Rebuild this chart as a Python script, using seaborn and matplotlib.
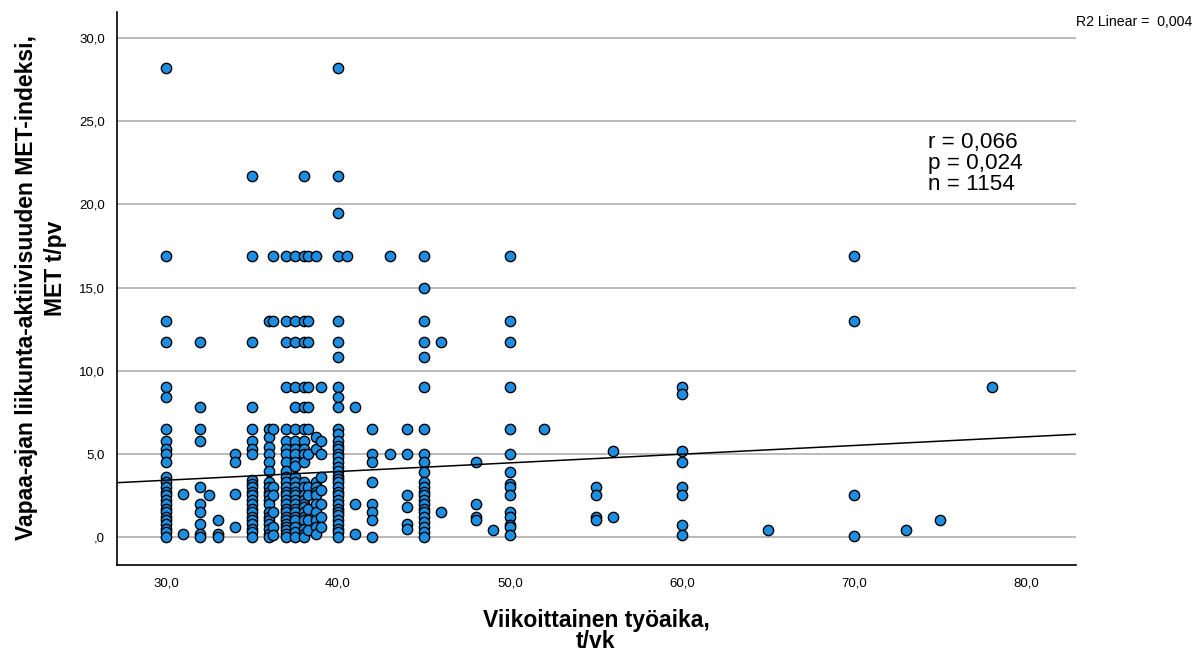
import pandas as pd
import matplotlib
matplotlib.use('Agg')
import matplotlib.pyplot as plt
import seaborn as sns
from matplotlib.ticker import FuncFormatter, MultipleLocator

# Weekly working hours (x columns) and leisure-time MET values
work_hours = [30.0, 31.0, 32.0, 32.5, 33.0, 34.0, 35.0, 36.0, 36.25, 37.0, 37.5,
              38.0, 38.25, 38.7, 39.0, 40.0, 40.5, 41.0, 42.0, 43.0, 44.0, 45.0,
              46.0, 48.0, 49.0, 50.0, 52.0, 55.0, 56.0, 60.0, 65.0, 70.0, 73.0,
              75.0, 78.0]

met_values = [
    [28.2, 16.9, 13.0, 11.7, 9.0, 8.4, 6.5, 5.8, 5.3, 5.0, 4.5, 3.6, 3.3, 3.0, 2.7,
     2.5, 2.2, 2.0, 1.7, 1.5, 1.2, 1.0, 0.8, 0.5, 0.3, 0.0],
    [2.6, 0.2],
    [11.7, 7.8, 6.5, 5.8, 3.0, 2.0, 1.5, 0.8, 0.2, 0.0],
    [2.5],
    [1.0, 0.2, 0.0],
    [5.0, 4.5, 2.6, 0.6],
    [21.7, 16.9, 11.7, 7.8, 6.5, 5.8, 5.3, 5.0, 3.4, 3.2, 3.0, 2.7, 2.5, 2.2, 2.0,
     1.7, 1.5, 1.2, 1.0, 0.8, 0.5, 0.3, 0.0],
    [13.0, 6.5, 6.0, 5.4, 5.0, 4.5, 4.0, 3.3, 3.0, 2.7, 2.5, 2.2, 2.0, 1.5, 1.2,
     1.0, 0.8, 0.5, 0.2, 0.0],
    [16.9, 13.0, 6.5, 3.0, 2.5, 1.5, 0.6, 0.1],
    [16.9, 13.0, 11.7, 9.0, 6.5, 5.8, 5.3, 5.0, 4.5, 4.0, 3.6, 3.3, 3.0, 2.7, 2.5,
     2.2, 2.0, 1.7, 1.5, 1.2, 1.0, 0.8, 0.6, 0.4, 0.2, 0.0],
    [16.9, 13.0, 11.7, 9.0, 7.8, 6.5, 5.8, 5.3, 5.0, 4.5, 4.3, 3.6, 3.3, 3.0, 2.7,
     2.5, 2.2, 2.0, 1.7, 1.5, 1.2, 1.0, 0.6, 0.3, 0.0],
    [21.7, 16.9, 13.0, 11.7, 9.0, 7.8, 6.5, 5.8, 5.3, 5.0, 4.5, 3.3, 3.0, 2.5, 2.2,
     2.0, 1.8, 1.5, 1.2, 1.0, 0.5, 0.2, 0.0],
    [16.9, 13.0, 11.7, 9.0, 7.8, 6.5, 5.0, 3.0, 2.5, 1.7, 1.0, 0.4],
    [16.9, 6.0, 5.3, 3.3, 3.0, 2.7, 2.5, 2.0, 1.5, 1.0, 0.6, 0.2],
    [9.0, 5.8, 5.0, 3.6, 2.8, 2.0, 1.2, 0.6],
    [28.2, 21.7, 19.5, 16.9, 13.0, 11.7, 10.8, 9.0, 8.4, 7.8, 6.5, 6.2, 5.8, 5.5,
     5.3, 5.0, 4.8, 4.5, 4.2, 4.0, 3.7, 3.5, 3.3, 3.0, 2.7, 2.5, 2.2, 2.0, 1.7, 1.5,
     1.3, 1.0, 0.8, 0.5, 0.3, 0.0],
    [16.9],
    [7.8, 2.0, 0.2],
    [6.5, 5.0, 4.5, 3.3, 2.0, 1.5, 1.0, 0.0],
    [16.9, 5.0],
    [6.5, 5.0, 2.5, 1.8, 0.8, 0.5],
    [16.9, 15.0, 13.0, 11.7, 10.8, 9.0, 6.5, 5.0, 4.5, 3.9, 3.3, 3.0, 2.7, 2.5, 2.2,
     2.0, 1.7, 1.5, 1.2, 0.9, 0.6, 0.3, 0.0],
    [11.7, 1.5],
    [4.5, 2.0, 1.2, 1.0],
    [0.4],
    [16.9, 13.0, 11.7, 9.0, 6.5, 5.0, 3.9, 3.2, 3.0, 2.5, 1.5, 1.2, 0.7, 0.6, 0.1],
    [6.5],
    [3.0, 2.5, 1.2, 1.0],
    [5.2, 1.2],
    [9.0, 8.6, 5.2, 4.5, 3.0, 2.5, 0.7, 0.1],
    [0.4],
    [16.9, 13.0, 2.5, 0.05],
    [0.4],
    [1.0],
    [9.0],
]

# Fit line shown in the chart (read from its end points) and the annotations
fit_intercept = 1.85
fit_slope = 0.0522
stats_text = "r = 0,066\np = 0,024\nn = 1154"
r2_text = "R2 Linear =  0,004"
x_label_lines = ["Viikoittainen työaika,", "t/vk"]
y_label_lines = ["Vapaa-ajan liikunta-aktiivisuuden MET-indeksi,", "MET t/pv"]

rows = []
for h, vals in zip(work_hours, met_values):
    for v in vals:
        rows.append({'hours': h, 'met': v})
df = pd.DataFrame(rows)

sns.set_style('white')
plt.rcParams['font.family'] = ['Liberation Sans', 'DejaVu Sans']
plt.rcParams['text.color'] = 'black'
plt.rcParams['axes.labelcolor'] = 'black'
plt.rcParams['xtick.color'] = 'black'
plt.rcParams['ytick.color'] = 'black'

W, H = 1196, 653
fig = plt.figure(figsize=(W / 100, H / 100), dpi=100)
ax = fig.add_axes([0.0981, 0.1348, 0.8013, 0.8468])

# grid lines at y ticks
for yv in [0, 5, 10, 15, 20, 25, 30]:
    ax.axhline(yv, color='#b4b4b4', lw=1.3, zorder=0)

sns.scatterplot(data=df, x='hours', y='met', ax=ax, s=55, color='#1c8fe3',
                edgecolor='black', linewidth=1.0, zorder=3, legend=False)

ax.axline((0, fit_intercept), slope=fit_slope, color='black', lw=1.1, zorder=4)

ax.set_xlim(27.17, 82.89)
ax.set_ylim(-1.68, 31.57)
ax.xaxis.set_major_locator(MultipleLocator(10))
ax.yaxis.set_major_locator(MultipleLocator(5))


def comma_fmt(v, pos):
    s = f"{v:.1f}".replace('.', ',')
    if s.startswith('0,'):
        s = s[1:]
    return s


ax.xaxis.set_major_formatter(FuncFormatter(comma_fmt))
ax.yaxis.set_major_formatter(FuncFormatter(comma_fmt))
ax.tick_params(axis='both', length=0, labelsize=9.5, colors='black')
ax.tick_params(axis='x', pad=9)
ax.tick_params(axis='y', pad=9)

for side in ['top', 'right']:
    ax.spines[side].set_visible(False)
for side in ['left', 'bottom']:
    ax.spines[side].set_color('black')
    ax.spines[side].set_linewidth(1.2)

ax.set_xlabel('')
ax.set_ylabel('')

# axis titles, placed line by line as in the original
fig.text(596 / W, 1 - 620 / H, x_label_lines[0], fontsize=16.5, fontweight='bold',
         ha='center', va='center', color='black')
fig.text(596 / W, 1 - 641 / H, x_label_lines[1], fontsize=16.5, fontweight='bold',
         ha='center', va='center', color='black')
fig.text(27 / W, 1 - 288 / H, y_label_lines[0], fontsize=16.5, fontweight='bold',
         ha='center', va='center', rotation=90, color='black')
fig.text(56 / W, 1 - 268 / H, y_label_lines[1], fontsize=16.5, fontweight='bold',
         ha='center', va='center', rotation=90, color='black')

ax.text(74.3, 22.45, stats_text, fontsize=16.2, va='center', ha='left',
        linespacing=1.0, color='black')
fig.text(1076 / W, 1 - 22 / H, r2_text, fontsize=10.2, va='center', ha='left',
         color='black')

fig.savefig('out.png', dpi=100)
